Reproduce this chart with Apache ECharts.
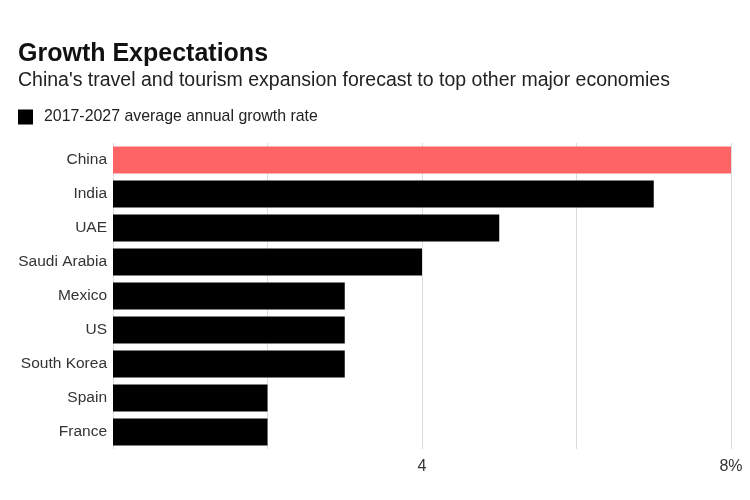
<!DOCTYPE html>
<html>
<head>
<meta charset="utf-8">
<script src="https://cdn.jsdelivr.net/npm/echarts@6/dist/echarts.min.js"></script>
<style>
html,body{margin:0;padding:0;background:#fff;}
#chart{width:750px;height:500px;}
</style>
</head>
<body>
<div id="chart"></div>
<script>
const categories = ["China", "India", "UAE", "Saudi Arabia", "Mexico", "US", "South Korea", "Spain", "France"];
const growthRates = [8, 7, 5, 4, 3, 3, 3, 2, 2];
const highlightCategory = "China";
const tickLabels = {4: "4", 8: "8%"};

const chart = echarts.init(document.getElementById('chart'), null, {renderer: 'canvas'});
const font = '"Liberation Sans", Arial, Helvetica, sans-serif';

chart.setOption({
  animation: false,
  backgroundColor: '#fff',
  textStyle: {fontFamily: font},
  title: [
    {text: 'Growth Expectations', left: 13, top: 37,
     textStyle: {fontFamily: font, fontSize: 25, fontWeight: 'bold', color: '#111'}},
    {text: "China's travel and tourism expansion forecast to top other major economies", left: 13, top: 66,
     textStyle: {fontFamily: font, fontSize: 19.5, fontWeight: 'normal', color: '#222'}}
  ],
  legend: {
    left: 13, top: 104, icon: 'rect', itemWidth: 15, itemHeight: 15, itemGap: 10,
    textStyle: {fontFamily: font, fontSize: 15.9, color: '#222', padding: [0, 0, 0, 6]},
    data: ['2017-2027 average annual growth rate']
  },
  grid: {left: 113, right: 19, top: 143, bottom: 51, containLabel: false},
  xAxis: {
    type: 'value', min: 0, max: 8, interval: 2,
    axisLine: {show: false}, axisTick: {show: false},
    splitLine: {show: true, lineStyle: {color: '#dcdcdc', width: 1}},
    axisLabel: {
      margin: 10, fontSize: 16, color: '#333', fontFamily: font,
      formatter: v => tickLabels[v] || ''
    }
  },
  yAxis: {
    type: 'category', data: categories, inverse: true,
    axisLine: {show: false}, axisTick: {show: false},
    axisLabel: {margin: 6, fontSize: 15.5, color: '#333', fontFamily: font}
  },
  series: [{
    name: '2017-2027 average annual growth rate',
    type: 'bar',
    barCategoryGap: '20%',
    itemStyle: {color: '#000'},
    data: categories.map((c, i) => ({
      value: growthRates[i],
      itemStyle: {color: c === highlightCategory ? '#ff6464' : '#000'}
    }))
  }]
});
</script>
</body>
</html>
